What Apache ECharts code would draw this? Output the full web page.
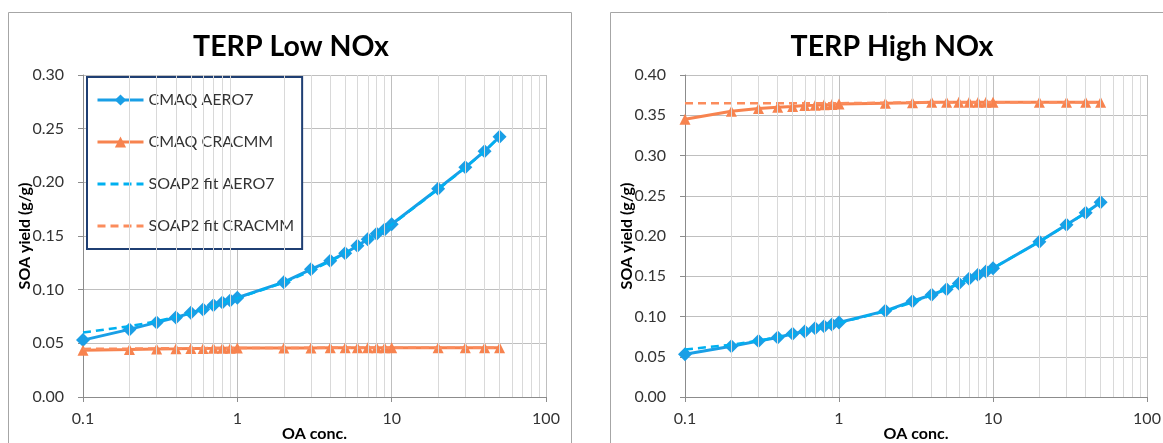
<!DOCTYPE html>
<html>
<head>
<meta charset="utf-8">
<script src="https://cdn.jsdelivr.net/npm/echarts@6/dist/echarts.min.js"></script>
<style>
    html, body { margin: 0; padding: 0; background: #fff; }
    #main { width: 1163px; height: 443px; }
</style>
</head>
<body>
<div id="main"></div>
<script>
// x values (OA conc.)
var oaConc = [0.1, 0.2, 0.3, 0.4, 0.5, 0.6, 0.7, 0.8, 0.9, 1, 2, 3, 4, 5, 6, 7, 8, 9, 10, 20, 30, 40, 50];
// minor grid lines on the log axis
var minorTicks = [0.2, 0.3, 0.4, 0.5, 0.6, 0.7, 0.8, 0.9, 2, 3, 4, 5, 6, 7, 8, 9, 20, 30, 40, 50, 60, 70, 80, 90];

// TERP Low NOx
var aero7Low = [0.053, 0.063, 0.0695, 0.074, 0.0785, 0.0815, 0.0855, 0.088, 0.090, 0.0925, 0.107, 0.119, 0.127, 0.134, 0.141, 0.147, 0.152, 0.156, 0.161, 0.194, 0.214, 0.229, 0.2425];
var cracmmLow = [0.0435, 0.0442, 0.0448, 0.045, 0.0452, 0.0453, 0.0454, 0.0455, 0.0455, 0.0456, 0.0457, 0.0457, 0.0458, 0.0458, 0.0458, 0.0458, 0.0458, 0.0458, 0.0458, 0.0458, 0.0458, 0.0458, 0.0458];
var aero7FitLow = [0.060, 0.066, 0.0705, 0.0745, 0.078, 0.0815, 0.0845, 0.0875, 0.090, 0.092, 0.1065, 0.1175, 0.1265, 0.134, 0.1405, 0.1465, 0.1515, 0.156, 0.1605, 0.1935, 0.2135, 0.229, 0.2425];
var cracmmFitLow = [0.0448, 0.0451, 0.0453, 0.0454, 0.0455, 0.0455, 0.0456, 0.0456, 0.0456, 0.0457, 0.0457, 0.0458, 0.0458, 0.0458, 0.0458, 0.0458, 0.0458, 0.0458, 0.0458, 0.0458, 0.0458, 0.0458, 0.0458];

// TERP High NOx
var aero7High = [0.053, 0.063, 0.0695, 0.074, 0.0785, 0.0815, 0.0855, 0.088, 0.090, 0.0925, 0.107, 0.119, 0.127, 0.134, 0.141, 0.147, 0.152, 0.156, 0.160, 0.193, 0.214, 0.229, 0.242];
var cracmmHigh = [0.345, 0.355, 0.3585, 0.360, 0.361, 0.362, 0.3625, 0.363, 0.3635, 0.364, 0.365, 0.3655, 0.366, 0.366, 0.366, 0.366, 0.366, 0.366, 0.366, 0.366, 0.366, 0.366, 0.366];
var aero7FitHigh = [0.059, 0.065, 0.070, 0.0745, 0.078, 0.0815, 0.0845, 0.0875, 0.090, 0.092, 0.1065, 0.1175, 0.1265, 0.134, 0.1405, 0.1465, 0.1515, 0.156, 0.160, 0.193, 0.2135, 0.229, 0.242];
var cracmmFitHigh = [0.365, 0.365, 0.365, 0.365, 0.365, 0.365, 0.365, 0.365, 0.365, 0.365, 0.3655, 0.366, 0.366, 0.366, 0.366, 0.366, 0.366, 0.366, 0.366, 0.366, 0.366, 0.366, 0.366];

var titles = ['TERP Low NOx', 'TERP High NOx'];
var yMax = [0.30, 0.40];

(function () {
    var font = 'Lato, Carlito, "DejaVu Sans", sans-serif';
    var blue = '#1a9fe6';
    var blueFit = '#00b0f0';
    var orange = '#f7834f';
    var orangeFit = '#fb8c5c';

    function pairs(ys) {
        return oaConc.map(function (x, i) { return [x, ys[i]]; });
    }

    // plot areas, kept fixed (no auto shrink for labels)
    var grids = [
        {left: 83, top: 75, width: 463, height: 322, containLabel: false, outerBoundsMode: 'none'},
        {left: 685, top: 75, width: 462, height: 322, containLabel: false, outerBoundsMode: 'none'}
    ];

    var xAxes = [], yAxes = [], series = [], titleList = [];
    var sets = [
        [aero7Low, cracmmLow, aero7FitLow, cracmmFitLow],
        [aero7High, cracmmHigh, aero7FitHigh, cracmmFitHigh]
    ];

    grids.forEach(function (g, k) {
        titleList.push({
            text: titles[k],
            left: k === 0 ? 291 : 892,
            top: 32,
            padding: 0,
            textAlign: 'center',
            textStyle: {fontFamily: font, fontSize: 28.5, fontWeight: 'bold', color: '#000'}
        });
        xAxes.push({
            gridIndex: k,
            type: 'log',
            logBase: 10,
            min: 0.1,
            max: 100,
            name: 'OA conc.',
            nameLocation: 'middle',
            nameGap: 29,
            nameMoveOverlap: false,
            nameTextStyle: {fontFamily: font, fontSize: 16, fontWeight: 'bold', color: '#000'},
            axisLine: {lineStyle: {color: '#8c8c8c', width: 1}},
            axisTick: {show: true, length: 5, lineStyle: {color: '#8c8c8c'}},
            axisLabel: {
                fontFamily: font, fontSize: 16, color: '#333', margin: 14,
                formatter: function (v) { return String(+v.toPrecision(3)); }
            },
            splitLine: {show: true, lineStyle: {color: '#bfbfbf', width: 1}},
            minorTick: {show: false},
            minorSplitLine: {show: false}
        });
        yAxes.push({
            gridIndex: k,
            type: 'value',
            min: 0,
            max: yMax[k],
            interval: 0.05,
            name: 'SOA yield (g/g)',
            nameLocation: 'middle',
            nameGap: 50,
            nameMoveOverlap: false,
            nameTextStyle: {fontFamily: font, fontSize: 16, fontWeight: 'bold', color: '#000'},
            axisLine: {show: true, lineStyle: {color: '#8c8c8c', width: 1}},
            axisTick: {show: true, length: 5, lineStyle: {color: '#8c8c8c'}},
            axisLabel: {
                fontFamily: font, fontSize: 16, color: '#333', margin: 19,
                formatter: function (v) { return v.toFixed(2); }
            },
            splitLine: {lineStyle: {color: '#bfbfbf', width: 1}}
        });

        // minor vertical grid lines
        series.push({
            type: 'line',
            xAxisIndex: k, yAxisIndex: k,
            data: [],
            silent: true,
            z: 1,
            markLine: {
                silent: true,
                symbol: 'none',
                label: {show: false},
                lineStyle: {color: '#d9d9d9', type: 'solid', width: 1},
                animation: false,
                data: minorTicks.map(function (v) { return {xAxis: v}; })
            }
        });

        var d = sets[k];
        series.push({
            name: 'CMAQ AERO7', type: 'line', xAxisIndex: k, yAxisIndex: k,
            data: pairs(d[0]), symbol: 'diamond', symbolSize: 14,
            lineStyle: {color: blue, width: 3}, itemStyle: {color: blue}, z: 3
        });
        series.push({
            name: 'CMAQ CRACMM', type: 'line', xAxisIndex: k, yAxisIndex: k,
            data: pairs(d[1]), symbol: 'triangle', symbolSize: 11,
            lineStyle: {color: orange, width: 3}, itemStyle: {color: orange}, z: 3
        });
        series.push({
            name: 'SOAP2 fit AERO7', type: 'line', xAxisIndex: k, yAxisIndex: k,
            data: pairs(d[2]), symbol: 'none', showSymbol: false,
            lineStyle: {color: blueFit, width: 2.5, type: [8, 5]}, itemStyle: {color: blueFit}, z: 4
        });
        series.push({
            name: 'SOAP2 fit CRACMM', type: 'line', xAxisIndex: k, yAxisIndex: k,
            data: pairs(d[3]), symbol: 'none', showSymbol: false,
            lineStyle: {color: orangeFit, width: 2.5, type: [8, 5]}, itemStyle: {color: orangeFit}, z: 4
        });
    });

    var option = {
        animation: false,
        backgroundColor: '#fff',
        title: titleList,
        grid: grids,
        xAxis: xAxes,
        yAxis: yAxes,
        legend: {
            orient: 'vertical',
            left: 87,
            top: 77,
            padding: [15, 8, 15, 9],
            itemGap: 26,
            itemWidth: 46,
            itemHeight: 14,
            borderColor: '#1f3f73',
            borderWidth: 2,
            backgroundColor: '#fff',
            textStyle: {fontFamily: font, fontSize: 16, color: '#333'},
            data: [
                {name: 'CMAQ AERO7', lineStyle: {width: 3}},
                {name: 'CMAQ CRACMM', lineStyle: {width: 3}},
                {name: 'SOAP2 fit AERO7', itemStyle: {opacity: 0}, lineStyle: {width: 3, type: [8, 5]}},
                {name: 'SOAP2 fit CRACMM', itemStyle: {opacity: 0}, lineStyle: {width: 3, type: [8, 5]}}
            ]
        },
        graphic: [
            {type: 'rect', silent: true, z: -1, shape: {x: 8.5, y: 12.5, width: 563, height: 445}, style: {fill: null, stroke: '#a6a6a6', lineWidth: 1}},
            {type: 'rect', silent: true, z: -1, shape: {x: 610.5, y: 12.5, width: 560, height: 445}, style: {fill: null, stroke: '#a6a6a6', lineWidth: 1}}
        ],
        series: series
    };

    var myechart = echarts.init(document.getElementById('main'));
    myechart.setOption(option);
})();
</script>
</body>
</html>
